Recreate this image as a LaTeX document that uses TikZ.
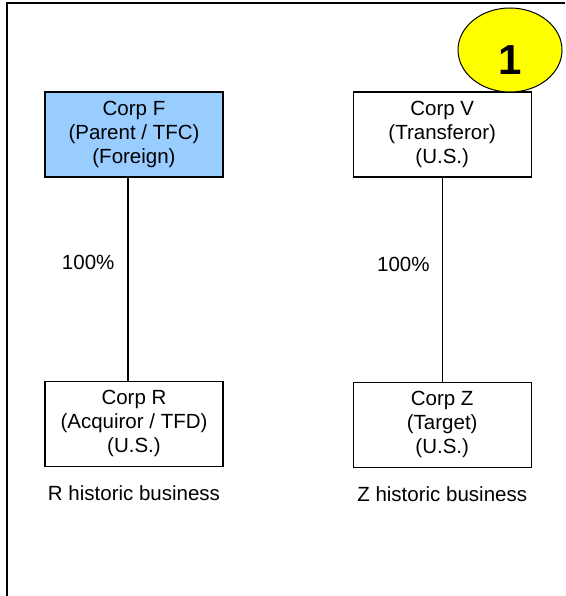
\documentclass[tikz,border=0pt]{standalone}
\usepackage{fontspec}
\setmainfont{Liberation Sans}
\usetikzlibrary{positioning,shapes.geometric}
\definecolor{foreignblue}{HTML}{99CCFF}
\definecolor{badgeyellow}{HTML}{FFFF00}
\tikzset{
  entity/.style={draw,line width=1.2pt,fill=white,minimum width=178pt,
    minimum height=85pt,inner sep=0pt,align=center},
  txt/.style={font=\fontsize{20.5}{24}\selectfont},
  owns/.style={line width=1.2pt},
}

\begin{document}
\begin{tikzpicture}[
  x=1pt,y=-1pt,
  every node/.style={txt},
  node distance=128pt
]
\useasboundingbox (0,0) rectangle (565,596);
\draw[line width=2pt] (565,3) -- (6.5,3) -- (6.5,596);

\node[entity,fill=foreignblue] (corpF) at (134,134.5) {Corp F\\(Parent / TFC)\\(Foreign)};
\node[entity,right=129pt of corpF] (corpV) {Corp V\\(Transferor)\\(U.S.)};
\node[entity,below=203pt of corpF] (corpR) {Corp R\\(Acquiror / TFD)\\(U.S.)};
\node[entity,below=204pt of corpV] (corpZ) {Corp Z\\(Target)\\(U.S.)};

\node[below=19pt of corpR,inner sep=0pt] (busR) {R historic business};
\node[below=19pt of corpZ,inner sep=0pt] (busZ) {Z historic business};

\node[ellipse,draw,line width=1pt,fill=badgeyellow,minimum width=104pt,
  minimum height=84pt,inner sep=0pt,text height=50pt,text depth=0pt,
  font=\fontsize{42}{42}\selectfont\bfseries] (badge) at (510,50) {1};

\path[owns]
([xshift=-6pt]corpF.south) edge node[left=13pt,pos=0.42,inner sep=0pt] (pctF) {100\%} ([xshift=-6pt]corpR.north)
(corpV) edge node[left=12pt,pos=0.425,inner sep=0pt] (pctV) {100\%} (corpZ);

\end{tikzpicture}
\end{document}
